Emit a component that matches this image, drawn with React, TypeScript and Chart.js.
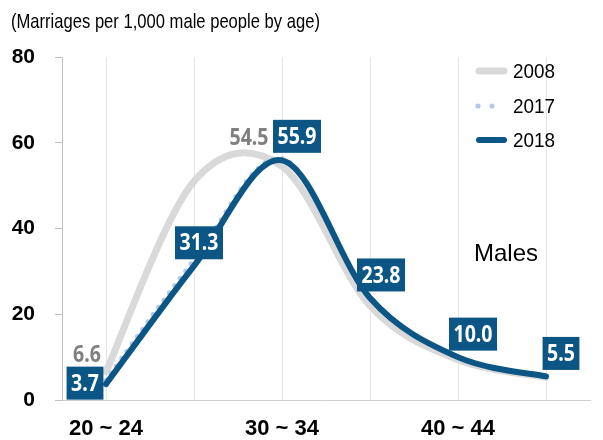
import React, { useEffect, useRef } from "react";
import { Chart, registerables } from "chart.js";

Chart.register(...registerables);

const ageGroups = ["20 ~ 24", "25 ~ 29", "30 ~ 34", "35 ~ 39", "40 ~ 44", "45 ~ 49"];
const rate2008 = [6.6, 51.0, 54.5, 22.0, 9.4, 5.3];
const rate2017 = [4.6, 32.6, 56.3, 24.0, 10.1, 5.6];
const rate2018 = [3.7, 31.3, 55.9, 23.8, 10.0, 5.5];
const seriesNames = ["2008", "2017", "2018"];
const yMin = 0;
const yMax = 80;
const yStep = 20;
const titleText = "(Marriages per 1,000 male people by age)";
const panelText = "Males";

const BLUE = "#0c5686";
const GRAY = "#d9d9d9";
const DOT = "#b4c7e7";
const SANS = "'Liberation Sans', Arial, sans-serif";
const LABEL_FONT = "'Noto Sans', 'Open Sans', sans-serif";

// label placement (style only): offsets from the point, in px
const labelStyle2018 = [
  { dx: -21, dy: -1 },
  { dx: 5, dy: -23 },
  { dx: 15, dy: -24 },
  { dx: 11, dy: -23 },
  { dx: 15, dy: -23 },
  { dx: 15, dy: -23 },
];
const labelStyle2008: ({ dx: number; dy: number } | null)[] = [
  { dx: -19, dy: -17 },
  null,
  { dx: -33, dy: -29 },
  null,
  null,
  null,
];

function drawSqueezed(ctx: CanvasRenderingContext2D, text: string, x: number, y: number, sx: number) {
  ctx.save();
  ctx.translate(x, y);
  ctx.scale(sx, 1);
  ctx.fillText(text, 0, 0);
  ctx.restore();
}

// Office-style smoothing: control points at 1/6 of the neighbour chord
const smoothPlugin = {
  id: "officeSmooth",
  afterDatasetsUpdate(chart: any) {
    chart.data.datasets.forEach((_d: any, di: number) => {
      const meta = chart.getDatasetMeta(di);
      const pts = meta.data;
      const n = pts.length;
      for (let i = 0; i < n; i++) {
        const p = pts[i];
        const prev = pts[Math.max(0, i - 1)];
        const next = pts[Math.min(n - 1, i + 1)];
        const dx = (next.x - prev.x) / 6;
        const dy = (next.y - prev.y) / 6;
        p.cp1x = p.x - dx;
        p.cp1y = p.y - dy;
        p.cp2x = p.x + dx;
        p.cp2y = p.y + dy;
      }
      if (meta.dataset) meta.dataset._pointsUpdated = true;
    });
  },
};

const decorPlugin = {
  id: "decor",
  afterDatasetsDraw(chart: any) {
    const ctx: CanvasRenderingContext2D = chart.ctx;
    ctx.save();
    const sx = 0.85;
    ctx.font = `bold 23px ${LABEL_FONT}`;
    ctx.textAlign = "center";
    ctx.textBaseline = "middle";
    const m2008 = chart.getDatasetMeta(0);
    m2008.data.forEach((pt: any, i: number) => {
      const st = labelStyle2008[i];
      if (!st) return;
      ctx.fillStyle = "#7f7f7f";
      drawSqueezed(ctx, rate2008[i].toFixed(1), pt.x + st.dx, pt.y + st.dy + 1, sx);
    });
    const m2018 = chart.getDatasetMeta(2);
    m2018.data.forEach((pt: any, i: number) => {
      const st = labelStyle2018[i];
      const txt = rate2018[i].toFixed(1);
      const w = ctx.measureText(txt).width * sx + 9;
      const h = 33;
      const cx = pt.x + st.dx;
      const cy = pt.y + st.dy;
      ctx.fillStyle = BLUE;
      ctx.fillRect(cx - w / 2, cy - h / 2, w, h);
      ctx.fillStyle = "#ffffff";
      drawSqueezed(ctx, txt, cx, cy + 1, sx);
    });
    ctx.restore();
  },
  afterDraw(chart: any) {
    const ctx: CanvasRenderingContext2D = chart.ctx;
    ctx.save();
    ctx.fillStyle = "#000";
    ctx.textAlign = "left";
    ctx.textBaseline = "middle";
    ctx.font = `21px ${SANS}`;
    drawSqueezed(ctx, titleText, 11, 22, 0.79);
    ctx.font = `24px ${SANS}`;
    ctx.fillText(panelText, 474, 254);
    const rows = [71, 106, 140];
    ctx.lineCap = "round";
    ctx.strokeStyle = GRAY;
    ctx.lineWidth = 7;
    ctx.beginPath();
    ctx.moveTo(479, rows[0]);
    ctx.lineTo(504, rows[0]);
    ctx.stroke();
    ctx.fillStyle = DOT;
    [478, 492].forEach((x) => {
      ctx.beginPath();
      ctx.arc(x, rows[1], 2.6, 0, Math.PI * 2);
      ctx.fill();
    });
    ctx.strokeStyle = BLUE;
    ctx.lineWidth = 6;
    ctx.beginPath();
    ctx.moveTo(479, rows[2]);
    ctx.lineTo(504, rows[2]);
    ctx.stroke();
    ctx.fillStyle = "#000";
    ctx.font = `21px ${SANS}`;
    seriesNames.forEach((n, i) => drawSqueezed(ctx, n, 513, rows[i] + 1, 0.9));
    ctx.restore();
  },
};

export default function App() {
  const ref = useRef<HTMLCanvasElement | null>(null);
  useEffect(() => {
    if (!ref.current) return;
    const chart = new Chart(ref.current, {
      type: "line",
      data: {
        labels: ageGroups,
        datasets: [
          {
            label: seriesNames[0],
            data: rate2008,
            borderColor: GRAY,
            borderWidth: 7,
            tension: 0.4,
            pointRadius: 0,
            borderCapStyle: "round",
            order: 3,
          },
          {
            label: seriesNames[1],
            data: rate2017,
            borderColor: DOT,
            borderWidth: 5,
            borderDash: [0, 9],
            borderCapStyle: "round",
            tension: 0.4,
            pointRadius: 0,
            order: 2,
          },
          {
            label: seriesNames[2],
            data: rate2018,
            borderColor: BLUE,
            borderWidth: 6,
            borderCapStyle: "round",
            tension: 0.4,
            pointRadius: 0,
            order: 1,
          },
        ],
      },
      options: {
        responsive: false,
        animation: false,
        layout: { padding: { top: 57, right: 13, left: 0, bottom: 0 } },
        plugins: {
          legend: { display: false },
          tooltip: { enabled: false },
          title: { display: false },
        },
        scales: {
          x: {
            offset: true,
            grid: { offset: false, color: "#e4e4e4", drawTicks: false },
            border: { color: "#d0d0d0" },
            ticks: {
              autoSkip: false,
              maxRotation: 0,
              padding: 16,
              color: "#000",
              font: { family: SANS, size: 22, weight: "bold" },
              callback: (_v: any, i: number) => (i % 2 === 0 ? ageGroups[i] : ""),
            },
            afterFit: (s: any) => {
              s.height = 40;
            },
          },
          y: {
            min: yMin,
            max: yMax,
            ticks: {
              stepSize: yStep,
              padding: 20,
              color: "#000",
              font: { family: SANS, size: 21, weight: "bold" },
            },
            grid: { drawOnChartArea: false, drawTicks: true, tickLength: 7, color: "#c0c0c0" },
            border: { color: "#c0c0c0" },
            afterFit: (s: any) => {
              s.width = 62;
            },
          },
        },
      },
      plugins: [smoothPlugin, decorPlugin],
    });
    return () => chart.destroy();
  }, []);
  return (
    <div style={{ position: "absolute", left: 0, top: 0, width: 603, height: 440, background: "#fff" }}>
      <canvas ref={ref} width={603} height={440} style={{ width: 603, height: 440 }} />
    </div>
  );
}
